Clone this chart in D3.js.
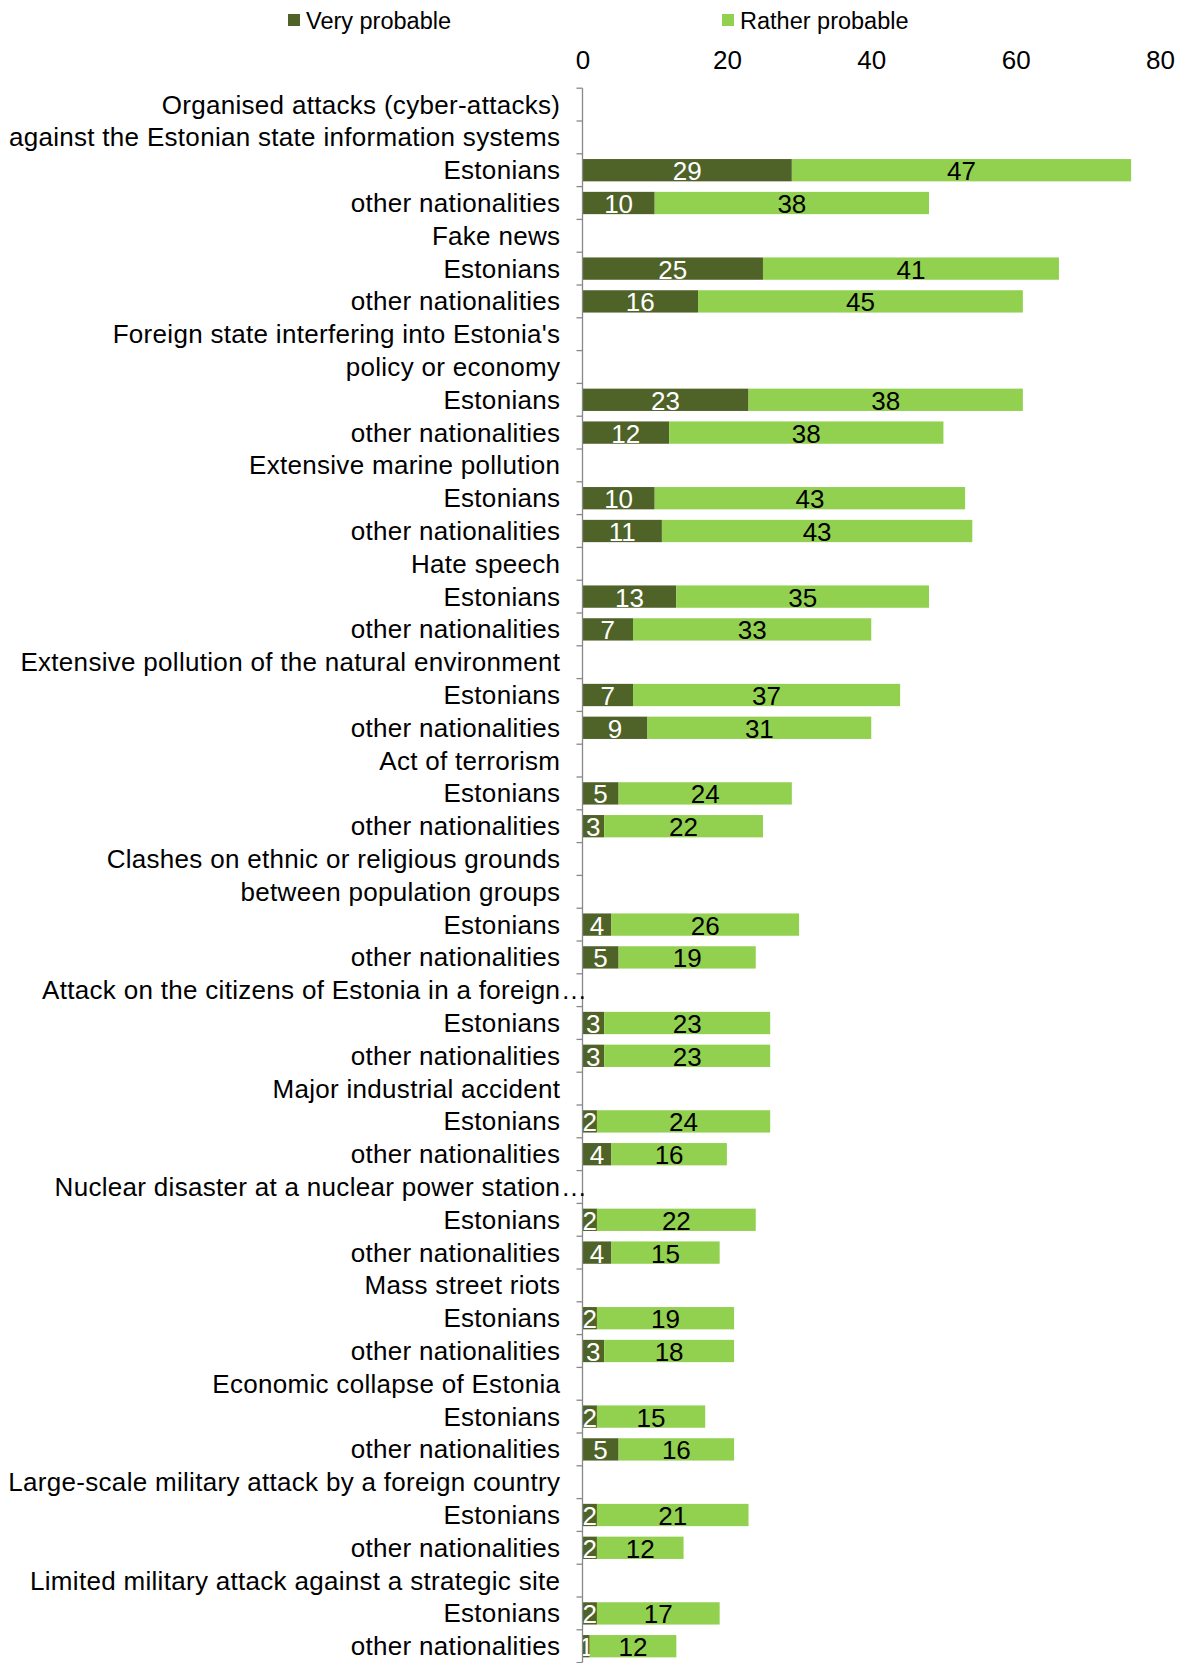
<!DOCTYPE html>
<html>
<head>
<meta charset="utf-8">
<script src="https://cdn.jsdelivr.net/npm/d3@7"></script>
<style>
  html, body { margin: 0; padding: 0; background: #ffffff; }
  svg { display: block; }
  text { font-family: "Liberation Sans", Arial, sans-serif; }
</style>
</head>
<body>
<div id="chart"></div>
<script>
const rowLabels = [
  "Organised attacks (cyber-attacks)",
  "against the Estonian state information systems",
  "Estonians", "other nationalities",
  "Fake news",
  "Estonians", "other nationalities",
  "Foreign state interfering into Estonia's",
  "policy or economy",
  "Estonians", "other nationalities",
  "Extensive marine pollution",
  "Estonians", "other nationalities",
  "Hate speech",
  "Estonians", "other nationalities",
  "Extensive pollution of the natural environment",
  "Estonians", "other nationalities",
  "Act of terrorism",
  "Estonians", "other nationalities",
  "Clashes on ethnic or religious grounds",
  "between population groups",
  "Estonians", "other nationalities",
  "Attack on the citizens of Estonia in a foreign…",
  "Estonians", "other nationalities",
  "Major industrial accident",
  "Estonians", "other nationalities",
  "Nuclear disaster at a nuclear power station…",
  "Estonians", "other nationalities",
  "Mass street riots",
  "Estonians", "other nationalities",
  "Economic collapse of Estonia",
  "Estonians", "other nationalities",
  "Large-scale military attack by a foreign country",
  "Estonians", "other nationalities",
  "Limited military attack against a strategic site",
  "Estonians", "other nationalities"
];

const veryProbable = [
  null, null, 29, 10,
  null, 25, 16,
  null, null, 23, 12,
  null, 10, 11,
  null, 13, 7,
  null, 7, 9,
  null, 5, 3,
  null, null, 4, 5,
  null, 3, 3,
  null, 2, 4,
  null, 2, 4,
  null, 2, 3,
  null, 2, 5,
  null, 2, 2,
  null, 2, 1
];

const ratherProbable = [
  null, null, 47, 38,
  null, 41, 45,
  null, null, 38, 38,
  null, 43, 43,
  null, 35, 33,
  null, 37, 31,
  null, 24, 22,
  null, null, 26, 19,
  null, 23, 23,
  null, 24, 16,
  null, 22, 15,
  null, 19, 18,
  null, 15, 16,
  null, 21, 12,
  null, 17, 12
];

const seriesNames = ["Very probable", "Rather probable"];
const seriesColors = ["#4F6228", "#92D050"];
const labelColors = ["#ffffff", "#000000"];
const xTicks = [0, 20, 40, 60, 80];

const W = 1182, H = 1663;
const FONT = 26, LS = 0.3;
const plotTop = 88.2, rowStep = 32.8;
const x0 = 582.5, x1 = 1160;

const svg = d3.select("#chart").append("svg")
  .attr("width", W).attr("height", H);

const x = d3.scaleLinear().domain([0, 80]).range([x0, x1]);
const pad = 0.32;
const y = d3.scaleBand()
  .domain(d3.range(rowLabels.length))
  .range([plotTop, plotTop + rowStep * rowLabels.length])
  .paddingInner(pad).paddingOuter(pad / 2);

// Top tick labels
const xAxis = d3.axisTop(x).tickValues(xTicks).tickSize(0).tickPadding(0);
const gx = svg.append("g").attr("transform", "translate(0,60)").call(xAxis);
gx.select(".domain").remove();
gx.selectAll("text")
  .attr("dy", null).attr("y", 0)
  .attr("dominant-baseline", "central")
  .attr("font-size", FONT).attr("fill", "#000")
  .style("font-family", '"Liberation Sans", Arial, sans-serif');

// Stacked data
const rows = rowLabels.map((lab, i) => ({
  i, lab, v: [veryProbable[i], ratherProbable[i]]
}));

const barG = svg.append("g");
rows.forEach(r => {
  if (r.v[0] == null) return;
  let acc = 0;
  r.v.forEach((val, k) => {
    const xs = x(acc), xe = x(acc + val);
    barG.append("rect")
      .attr("x", xs).attr("y", y(r.i))
      .attr("width", xe - xs).attr("height", y.bandwidth())
      .attr("fill", seriesColors[k]);
    barG.append("text")
      .attr("x", (xs + xe) / 2)
      .attr("y", y(r.i) + y.bandwidth() / 2 + 1)
      .attr("text-anchor", "middle")
      .attr("dominant-baseline", "central")
      .attr("font-size", FONT)
      .attr("fill", labelColors[k])
      .text(val);
    acc += val;
  });
});

// Y axis line and ticks
const axisG = svg.append("g");
const yTop = y.range()[0], yBot = y.range()[1];
axisG.append("line")
  .attr("x1", x0).attr("x2", x0).attr("y1", yTop).attr("y2", yBot)
  .attr("stroke", "#888888").attr("stroke-width", 1.3);
d3.range(rowLabels.length + 1).forEach(i => {
  const yy = yTop + i * y.step();
  axisG.append("line")
    .attr("x1", x0 - 6).attr("x2", x0).attr("y1", yy).attr("y2", yy)
    .attr("stroke", "#888888").attr("stroke-width", 1.3);
});

// Category labels
const labG = svg.append("g");
rows.forEach(r => {
  const cy = y(r.i) + y.bandwidth() / 2;
  const hasEllipsis = r.lab.endsWith("…");
  const main = hasEllipsis ? r.lab.slice(0, -1) : r.lab;
  labG.append("text")
    .attr("x", 560 + LS).attr("y", cy)
    .attr("text-anchor", "end")
    .attr("dominant-baseline", "central")
    .attr("font-size", FONT)
    .attr("letter-spacing", LS)
    .attr("fill", "#000")
    .text(main);
  if (hasEllipsis) {
    labG.append("text")
      .attr("x", 561).attr("y", cy)
      .attr("text-anchor", "start")
      .attr("dominant-baseline", "central")
      .attr("font-size", FONT)
      .attr("fill", "#000")
      .text("…");
  }
});

// Legend
const legendX = [288, 722];
seriesNames.forEach((name, k) => {
  const g = svg.append("g").attr("transform", `translate(${legendX[k]},20)`);
  g.append("rect").attr("x", 0).attr("y", -6).attr("width", 12).attr("height", 12)
    .attr("fill", seriesColors[k]);
  g.append("text").attr("x", 18).attr("y", 1)
    .attr("dominant-baseline", "central")
    .attr("font-size", 23.5)
    .attr("fill", "#000")
    .text(name);
});
</script>
</body>
</html>
